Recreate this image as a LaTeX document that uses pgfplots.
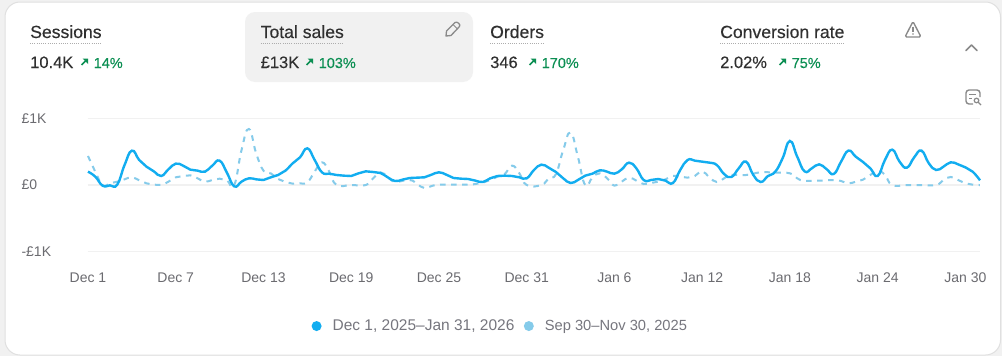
\documentclass[border=0pt]{standalone}
\usepackage{fontspec}
\usepackage{pgfplots}
\pgfplotsset{compat=1.18}
\usepackage{pgfplotstable}
\setmainfont{Liberation Sans}
\newfontfamily\med[FakeBold=0.3]{Liberation Sans}
\newfontfamily\semi[FakeBold=0.18]{Liberation Sans}
\definecolor{solidc}{HTML}{12ADF0}
\definecolor{dashc}{HTML}{85CBEA}
\definecolor{gridc}{HTML}{F1F1F1}
\definecolor{ink}{HTML}{303030}
\definecolor{tickc}{HTML}{6B6B70}
\definecolor{legc}{HTML}{76767E}
\definecolor{greenc}{HTML}{0C8F53}
\definecolor{iconc}{HTML}{8A8A8A}
\pgfplotstableread{
d v
0 200
0.5 125
1 -10
1.5 -5
2 5
2.5 300
3 515
3.5 375
4 275
4.5 205
5 135
5.5 235
6 320
6.5 290
7 230
7.5 215
8 200
8.5 290
9 365
9.5 185
10 -20
10.5 50
11 100
11.5 85
12 75
12.5 115
13 150
13.5 215
14 325
14.5 415
15 550
15.5 375
16 190
16.5 170
17 150
17.5 140
18 135
18.5 175
19 205
19.5 195
20 180
20.5 115
21 60
21.5 80
22 105
22.5 110
23 115
23.5 155
24 190
24.5 155
25 105
25.5 95
26 90
26.5 65
27 45
27.5 100
28 135
28.5 140
29 135
29.5 115
30 100
30.5 225
31 305
31.5 260
32 195
32.5 100
33 30
33.5 75
34 140
34.5 170
35 220
35.5 200
36 170
36.5 235
37 335
37.5 250
38 75
38.5 75
39 90
39.5 65
40 30
40.5 225
41 375
41.5 365
42 350
42.5 335
43 300
43.5 165
44 120
44.5 250
45 350
45.5 150
46 45
46.5 135
47 200
47.5 400
48 660
48.5 425
49 205
49.5 250
50 310
50.5 240
51 165
51.5 350
52 515
52.5 425
53 345
53.5 250
54 135
54.5 375
55 530
55.5 350
56 260
56.5 415
57 515
57.5 325
58 225
58.5 275
59 340
59.5 310
60 265
60.5 200
61 70
}\curtable
\pgfplotstableread{
d v
0 435
0.5 200
1 0
1.5 25
2 50
2.5 85
3 115
3.5 70
4 25
4.5 5
5 0
5.5 50
6 115
6.5 135
7 145
7.5 100
8 50
8.5 75
9 95
9.5 70
10 0
10.5 525
11 840
11.5 475
12 215
12.5 175
13 90
13.5 45
14 20
14.5 25
15 40
15.5 200
16 340
16.5 200
17 0
18 0
19 0
19.5 100
20 190
20.5 120
21 50
22 75
22.5 15
23 -45
23.5 -15
24 5
25 5
26 5
26.5 15
27 35
27.5 75
28 125
28.5 165
29 290
29.5 175
30 0
31 0
31.5 100
32 165
32.5 525
33 785
33.5 425
34 0
34.5 115
35 175
35.5 100
36 -10
36.5 50
37 110
37.5 65
38 15
38.5 30
39 50
39.5 85
40 135
40.5 125
41 110
41.5 135
42 205
42.5 115
43 45
43.5 100
44 150
45 150
46 190
47 185
48 175
48.5 100
49 65
50 65
51 75
51.5 60
52 25
52.5 50
53 80
53.5 150
54 215
54.5 150
55 0
56 0
57 0
58 0
58.5 75
59 120
59.5 75
60 25
60.5 5
61 0
}\prevtable
\newcommand{\upar}[2]{%
  \draw[greenc,line width=1.7pt] (#1+0.5,#2+7) -- (#1+5.5,#2+2);
  \fill[greenc] (#1+1.5,#2+0.5) -- (#1+7,#2+0.5) -- (#1+7,#2+6) -- cycle;}
\newcommand{\metric}[6]{% x, title, underline end, value, arrow x, pct
  \node[anchor=base west,inner sep=0,text=ink] at (#1,38) {\fontsize{17.6}{19}\med #2};
  \draw[iconc!70,line width=1pt,dash pattern=on 1pt off 1.2pt] (#1,43.5) -- (#3,43.5);
  \node[anchor=base west,inner sep=0,text=ink] at (#1,68) {\fontsize{16.5}{18}\semi #4};
  \upar{#5}{58}
  \node[anchor=base west,inner sep=0,text=greenc] at (#5+12.5,68) {\fontsize{14.5}{16}\med #6};}
\begin{document}
\begin{tikzpicture}[x=1pt,y=-1pt]
\fill[gridc] (0,0) rectangle (1002,356);
\fill[white,draw=black!12,line width=1pt,rounded corners=15pt] (5,2) rectangle (1000.5,355);
\fill[gridc,rounded corners=10pt] (245,12) rectangle (473,82);
\metric{30}{Sessions}{101}{10.4K}{81}{14\%}
\metric{260.5}{Total sales}{344}{£13K}{306}{103\%}
\metric{490}{Orders}{544}{346}{529}{170\%}
\metric{720}{Conversion rate}{845}{2.02\%}{779}{75\%}
% pencil
\draw[iconc,line width=1.3pt,line join=round] (446,36) -- (446.5,31) -- (455,22.5) .. controls (457,21) and (461,24.5) .. (459.5,26.5) -- (451,35.5) -- cycle;
\draw[iconc,line width=1pt] (453,24.5) -- (457.5,29);
% warning
\draw[iconc,line width=1.4pt,line join=round,rounded corners=1.5pt] (913,21.5) -- (921,37) -- (905,37) -- cycle;
\draw[iconc,line width=1.5pt] (913,26.5) -- (913,31.5);
\fill[iconc] (913,34) circle (0.9);
% chevron
\draw[iconc,line width=1.5pt,line cap=round,line join=round] (966,50.5) -- (971.5,45) -- (977,50.5);
% search icon
\draw[iconc,line width=1.4pt,rounded corners=3pt] (973,104) -- (966,104) -- (966,90) -- (980,90) -- (980,97);
\draw[iconc,line width=1.2pt] (969,94.5) -- (976,94.5) (969,98.5) -- (972,98.5);
\draw[iconc,line width=1.2pt] (976.5,100.5) circle (2.3) (978.2,102.2) -- (981,105);
\begin{axis}[
  at={(88pt,-251.7pt)},anchor=south west,
  scale only axis,width=892pt,height=133.4pt,
  xmin=0,xmax=61,ymin=-1000,ymax=1000,clip=false,
  axis line style={draw=none},
  major tick length=0pt,
  xtick={0,6,12,18,24,30,36,42,48,54,60},
  xticklabels={Dec 1,Dec 7,Dec 13,Dec 19,Dec 25,Dec 31,Jan 6,Jan 12,Jan 18,Jan 24,Jan 30},
  ytick={-1000,0,1000},
  yticklabels={-£1K,£0,£1K},
  xticklabel style={font=\fontsize{14}{16}\selectfont,text=tickc,anchor=base,yshift=-31pt},
  yticklabel style={font=\fontsize{14}{16}\selectfont,text=tickc,anchor=west,xshift=-70pt},
  ymajorgrids,xmajorgrids=false,
  grid style={gridc,line width=1.5pt},
  legend columns=2,
  legend cell align=left,
  legend style={at={(0.25,0)},anchor=north west,xshift=-8pt,yshift=-64pt,draw=none,fill=none,
    font=\fontsize{15.5}{17}\selectfont\color{legc},/tikz/every even column/.append style={column sep=2pt}},
]
\addplot[forget plot,dashc,line width=2pt,dash pattern=on 5.5pt off 5.5pt,smooth,tension=0.8] table[x=d,y=v]{\prevtable};
\addplot[forget plot,solidc,line width=2.4pt,smooth,tension=0.8] table[x=d,y=v]{\curtable};
\addlegendimage{legend image code/.code={\path (0pt,0pt) (24pt,0pt);\node[circle,fill=solidc,inner sep=0,minimum size=10pt] at (5pt,0) {};}}
\addlegendentry{Dec 1, 2025–Jan 31, 2026}
\addlegendimage{legend image code/.code={\path (0pt,0pt) (24pt,0pt);\node[circle,fill=dashc,inner sep=0,minimum size=10pt] at (5pt,0) {};}}
\addlegendentry{\fontsize{14.7}{17}\selectfont Sep 30–Nov 30, 2025}
\end{axis}
\path (0,0) rectangle (1002,356);
\end{tikzpicture}
\end{document}
